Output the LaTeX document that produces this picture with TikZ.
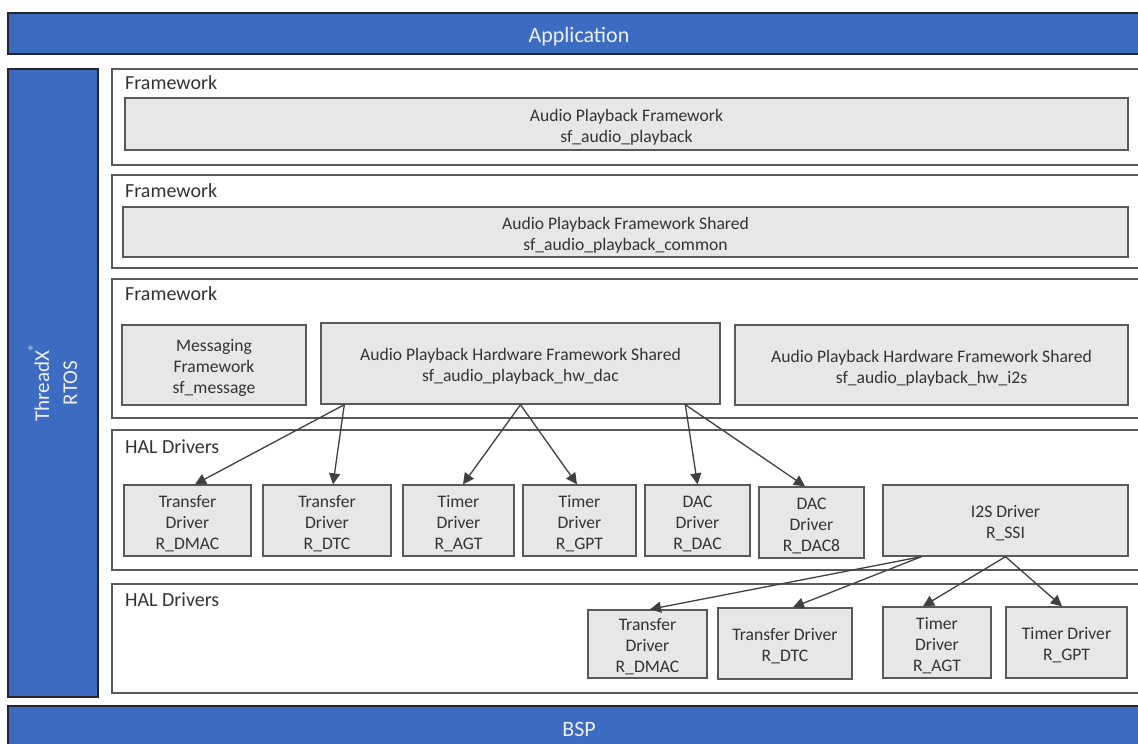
\documentclass[tikz,border=0pt]{standalone}
\usepackage{fontspec}
\setmainfont{Carlito}
\usetikzlibrary{arrows.meta,calc}
\definecolor{barblue}{HTML}{3D6BC1}
\definecolor{boxfill}{HTML}{E7E7E7}
\definecolor{edge}{HTML}{595959}
\definecolor{txt}{HTML}{333333}
\definecolor{arrowc}{HTML}{404040}
\begin{document}
\begin{tikzpicture}[x=1pt,y=-1pt,
  every node/.style={font=\fontsize{17.6}{21}\selectfont, text=txt, inner sep=0pt},
  bar/.style={draw=black!85, line width=1.6pt, fill=barblue},
  bartext/.style={text=white!90!barblue, font=\fontsize{22}{24}\selectfont},
  cont/.style={draw=edge, line width=1.4pt, fill=white},
  box/.style={draw=edge, line width=1.4pt, fill=boxfill},
  bt/.style={align=center, yshift=-3pt},
  lbl/.style={anchor=west, font=\fontsize{20}{22}\selectfont},
  arr/.style={draw=arrowc, line width=1.3pt, -{Triangle[length=11pt,width=11pt]}}]
\useasboundingbox (0,0) rectangle (1138,744);
\clip (0,0) rectangle (1138,744);
% bars
\node[bar, minimum width=1142, minimum height=41, label={[bartext, yshift=-3pt]center:Application}] (app) at (579,33.5) {};
\node[bar, minimum width=90, minimum height=628] (rtos) at (53,383) {};
\node[text=white!90!barblue, rotate=90, align=center, font=\fontsize{21}{28}\selectfont] (rtoslbl) at (rtos.center) {ThreadX\raisebox{0.55em}{\fontsize{13}{13}\selectfont ®}\\RTOS};
\node[bar, minimum width=1142, minimum height=46, label={[bartext]center:BSP}] (bsp) at (579,729) {};
% containers
\node[cont, minimum width=1038, minimum height=96] (fw1) at (631,117) {};
\node[cont, minimum width=1038, minimum height=93] (fw2) at (631,221.5) {};
\node[cont, minimum width=1038, minimum height=139] (fw3) at (631,348.5) {};
\node[cont, minimum width=1038, minimum height=140] (hal1) at (631,500) {};
\node[cont, minimum width=1038, minimum height=109] (hal2) at (631,638.5) {};
\node[lbl] (fw1l) at (125,83) {Framework};
\node[lbl] (fw2l) at (125,191) {Framework};
\node[lbl] (fw3l) at (125,294) {Framework};
\node[lbl] (hal1l) at (125,447) {HAL Drivers};
\node[lbl] (hal2l) at (125,600) {HAL Drivers};
% framework boxes
\node[box, minimum width=1003, minimum height=52, label={[bt]center:{Audio Playback Framework\\sf\_audio\_playback}}] (apf) at (626.5,124) {};
\node[box, minimum width=1005, minimum height=50, label={[bt]center:{Audio Playback Framework Shared\\sf\_audio\_playback\_common}}] (apfs) at (625.5,232) {};
\node[box, minimum width=184, minimum height=80, label={[bt]center:{Messaging\\Framework\\sf\_message}}] (msg) at (214,365) {};
\node[box, minimum width=399, minimum height=81, label={[bt]center:{Audio Playback Hardware Framework Shared\\sf\_audio\_playback\_hw\_dac}}] (hwdac) at (520.5,363.5) {};
\node[box, minimum width=393, minimum height=80, label={[bt]center:{Audio Playback Hardware Framework Shared\\sf\_audio\_playback\_hw\_i2s}}] (hwi2s) at (931.5,365) {};
% HAL drivers 1
\node[box, minimum width=127, minimum height=71, label={[bt]center:{Transfer\\Driver\\R\_DMAC}}] (dmac1) at (187.5,520.5) {};
\node[box, minimum width=128, minimum height=71, label={[bt]center:{Transfer\\Driver\\R\_DTC}}] (dtc1) at (327,520.5) {};
\node[box, minimum width=111, minimum height=71, label={[bt]center:{Timer\\Driver\\R\_AGT}}] (agt1) at (458.5,520.5) {};
\node[box, minimum width=113, minimum height=71, label={[bt]center:{Timer\\Driver\\R\_GPT}}] (gpt1) at (579.5,520.5) {};
\node[box, minimum width=105, minimum height=71, label={[bt]center:{DAC\\Driver\\R\_DAC}}] (dac) at (697.5,520.5) {};
\node[box, minimum width=105, minimum height=71, label={[bt]center:{DAC\\Driver\\R\_DAC8}}] (dac8) at (811.5,522.5) {};
\node[box, minimum width=245, minimum height=71, label={[bt]center:{I2S Driver\\R\_SSI}}] (ssi) at (1005.5,520.5) {};
% HAL drivers 2
\node[box, minimum width=119, minimum height=68, label={[bt]center:{Transfer\\Driver\\R\_DMAC}}] (dmac2) at (647.5,644) {};
\node[box, minimum width=134, minimum height=71, label={[bt]center:{Transfer Driver\\R\_DTC}}] (dtc2) at (785,643.5) {};
\node[box, minimum width=108, minimum height=71, label={[bt]center:{Timer\\Driver\\R\_AGT}}] (agt2) at (937,642.5) {};
\node[box, minimum width=121, minimum height=71, label={[bt]center:{Timer Driver\\R\_GPT}}] (gpt2) at (1066.5,642.5) {};
% arrows
\draw[arr] ([xshift=24pt]hwdac.south west) -- ([xshift=7.5pt]dmac1.north);
\draw[arr] ([xshift=24pt]hwdac.south west) -- ([xshift=6pt]dtc1.north);
\draw[arr] (hwdac.south) -- ([xshift=4.5pt]agt1.north);
\draw[arr] (hwdac.south) -- ([xshift=-2.5pt]gpt1.north);
\draw[arr] ([xshift=365pt]hwdac.south west) -- (dac.north);
\draw[arr] ([xshift=365pt]hwdac.south west) -- ([xshift=-6.5pt]dac8.north);
\draw[arr] ([xshift=39pt]ssi.south west) -- ([xshift=2.5pt]dmac2.north);
\draw[arr] ([xshift=39pt]ssi.south west) -- ([xshift=8pt]dtc2.north);
\draw[arr] (ssi.south) -- ([xshift=-14pt]agt2.north);
\draw[arr] (ssi.south) -- ([xshift=-4.5pt]gpt2.north);
\end{tikzpicture}
\end{document}
